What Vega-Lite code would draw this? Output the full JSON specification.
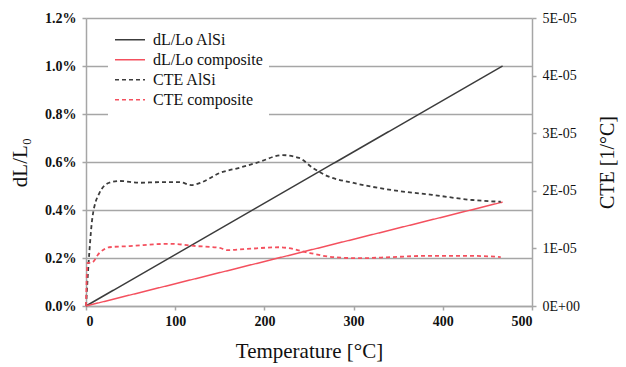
{
  "$schema": "https://vega.github.io/schema/vega-lite/v6.json",
  "width": 446,
  "height": 288,
  "autosize": {"type": "none"},
  "padding": {"left": 86, "top": 18, "right": 94, "bottom": 61},
  "background": "white",
  "config": {
    "view": {"stroke": null},
    "font": "Liberation Serif",
    "axis": {
      "labelFont": "Liberation Serif",
      "titleFont": "Liberation Serif",
      "labelFontSize": 14,
      "labelColor": "#111",
      "titleColor": "#111",
      "titleFontWeight": "normal",
      "domainColor": "#a6a6a6",
      "tickColor": "#a6a6a6",
      "gridColor": "#a6a6a6",
      "domainWidth": 1.5,
      "tickWidth": 1.5,
      "gridWidth": 1.5
    }
  },
  "datasets": {
    "dl": [
      {"T": 0, "v": 0, "series": "dL/Lo AlSi"},
      {"T": 467, "v": 0.01, "series": "dL/Lo AlSi"},
      {"T": 0, "v": 0, "series": "dL/Lo composite"},
      {"T": 467, "v": 0.00433, "series": "dL/Lo composite"}
    ],
    "cte": [
      {"T": 0, "v": 0, "series": "CTE AlSi"},
      {"T": 3.9, "v": 0.97e-5, "series": "CTE AlSi"},
      {"T": 7.3, "v": 1.55e-5, "series": "CTE AlSi"},
      {"T": 15, "v": 1.96e-5, "series": "CTE AlSi"},
      {"T": 26, "v": 2.14e-5, "series": "CTE AlSi"},
      {"T": 38, "v": 2.17e-5, "series": "CTE AlSi"},
      {"T": 60, "v": 2.14e-5, "series": "CTE AlSi"},
      {"T": 82, "v": 2.15e-5, "series": "CTE AlSi"},
      {"T": 105, "v": 2.15e-5, "series": "CTE AlSi"},
      {"T": 118, "v": 2.1e-5, "series": "CTE AlSi"},
      {"T": 130, "v": 2.15e-5, "series": "CTE AlSi"},
      {"T": 150, "v": 2.31e-5, "series": "CTE AlSi"},
      {"T": 172, "v": 2.40e-5, "series": "CTE AlSi"},
      {"T": 194, "v": 2.50e-5, "series": "CTE AlSi"},
      {"T": 220, "v": 2.62e-5, "series": "CTE AlSi"},
      {"T": 239, "v": 2.57e-5, "series": "CTE AlSi"},
      {"T": 254, "v": 2.40e-5, "series": "CTE AlSi"},
      {"T": 270, "v": 2.26e-5, "series": "CTE AlSi"},
      {"T": 299, "v": 2.14e-5, "series": "CTE AlSi"},
      {"T": 344, "v": 2.01e-5, "series": "CTE AlSi"},
      {"T": 388, "v": 1.93e-5, "series": "CTE AlSi"},
      {"T": 433, "v": 1.84e-5, "series": "CTE AlSi"},
      {"T": 465, "v": 1.81e-5, "series": "CTE AlSi"},
      {"T": 0, "v": 0, "series": "CTE composite"},
      {"T": 1.7, "v": 0.75e-5, "series": "CTE composite"},
      {"T": 6, "v": 0.75e-5, "series": "CTE composite"},
      {"T": 15, "v": 0.92e-5, "series": "CTE composite"},
      {"T": 26, "v": 1.02e-5, "series": "CTE composite"},
      {"T": 49, "v": 1.04e-5, "series": "CTE composite"},
      {"T": 94, "v": 1.08e-5, "series": "CTE composite"},
      {"T": 124, "v": 1.04e-5, "series": "CTE composite"},
      {"T": 150, "v": 1.01e-5, "series": "CTE composite"},
      {"T": 158, "v": 0.97e-5, "series": "CTE composite"},
      {"T": 180, "v": 0.99e-5, "series": "CTE composite"},
      {"T": 217, "v": 1.02e-5, "series": "CTE composite"},
      {"T": 225, "v": 1.01e-5, "series": "CTE composite"},
      {"T": 251, "v": 0.92e-5, "series": "CTE composite"},
      {"T": 276, "v": 0.85e-5, "series": "CTE composite"},
      {"T": 307, "v": 0.83e-5, "series": "CTE composite"},
      {"T": 344, "v": 0.85e-5, "series": "CTE composite"},
      {"T": 382, "v": 0.87e-5, "series": "CTE composite"},
      {"T": 433, "v": 0.87e-5, "series": "CTE composite"},
      {"T": 465, "v": 0.85e-5, "series": "CTE composite"}
    ]
  },
  "encoding": {
    "x": {
      "field": "T",
      "type": "quantitative",
      "scale": {"domain": [0, 500], "nice": false},
      "axis": {
        "title": "Temperature [°C]",
        "titleFontSize": 21,
        "titlePadding": 12,
        "values": [0, 100, 200, 300, 400, 500],
        "grid": false,
        "tickSize": 4,
        "labelPadding": 4,
        "labelFontWeight": "bold"
      }
    },
    "color": {
      "field": "series",
      "type": "nominal",
      "scale": {
        "domain": ["dL/Lo AlSi", "dL/Lo composite", "CTE AlSi", "CTE composite"],
        "range": ["#3c3c3c", "#f4505e", "#3c3c3c", "#f4505e"]
      },
      "legend": {
        "title": null,
        "orient": "none",
        "legendX": 22,
        "legendY": 6,
        "fillColor": "white",
        "padding": 6,
        "symbolType": "stroke",
        "symbolSize": 900,
        "symbolStrokeWidth": 1.6,
        "labelFont": "Liberation Serif",
        "labelFontSize": 16,
        "labelColor": "#111",
        "rowPadding": 0,
        "clipHeight": 19.5,
        "labelOffset": 7
      }
    },
    "strokeDash": {
      "field": "series",
      "type": "nominal",
      "scale": {
        "domain": ["dL/Lo AlSi", "dL/Lo composite", "CTE AlSi", "CTE composite"],
        "range": [[1, 0], [1, 0], [4, 3], [4, 3]]
      },
      "legend": {
        "title": null,
        "orient": "none",
        "legendX": 22,
        "legendY": 6,
        "fillColor": "white",
        "padding": 6,
        "symbolType": "stroke",
        "symbolSize": 900,
        "symbolStrokeWidth": 1.6,
        "labelFont": "Liberation Serif",
        "labelFontSize": 16,
        "labelColor": "#111",
        "rowPadding": 0,
        "clipHeight": 19.5,
        "labelOffset": 7
      }
    }
  },
  "layer": [
    {
      "data": {"name": "dl"},
      "mark": {"type": "line", "strokeWidth": 1.5},
      "encoding": {
        "y": {
          "field": "v",
          "type": "quantitative",
          "scale": {"domain": [0, 0.012], "nice": false},
          "axis": {
            "title": "dL/L₀",
            "titleFontSize": 21,
            "titlePadding": 14,
            "format": ".1%",
            "values": [0, 0.002, 0.004, 0.006, 0.008, 0.01, 0.012],
            "tickSize": 4,
            "labelPadding": 6,
            "labelFontWeight": "bold",
            "orient": "left"
          }
        }
      }
    },
    {
      "data": {"name": "cte"},
      "mark": {"type": "line", "strokeWidth": 1.8, "interpolate": "monotone"},
      "encoding": {
        "y": {
          "field": "v",
          "type": "quantitative",
          "scale": {"domain": [0, 5e-5], "nice": false},
          "axis": {
            "title": "CTE [1/°C]",
            "titleFontSize": 20,
            "titleAngle": 270,
            "titleBaseline": "top",
            "titlePadding": 18,
            "values": [0, 1e-5, 2e-5, 3e-5, 4e-5, 5e-5],
            "labelExpr": "datum.value == 0 ? '0E+00' : toString(round(datum.value * 100000)) + 'E-05'",
            "grid": false,
            "tickSize": 4,
            "labelPadding": 6,
            "orient": "right"
          }
        }
      }
    }
  ],
  "resolve": {"scale": {"y": "independent"}}
}
